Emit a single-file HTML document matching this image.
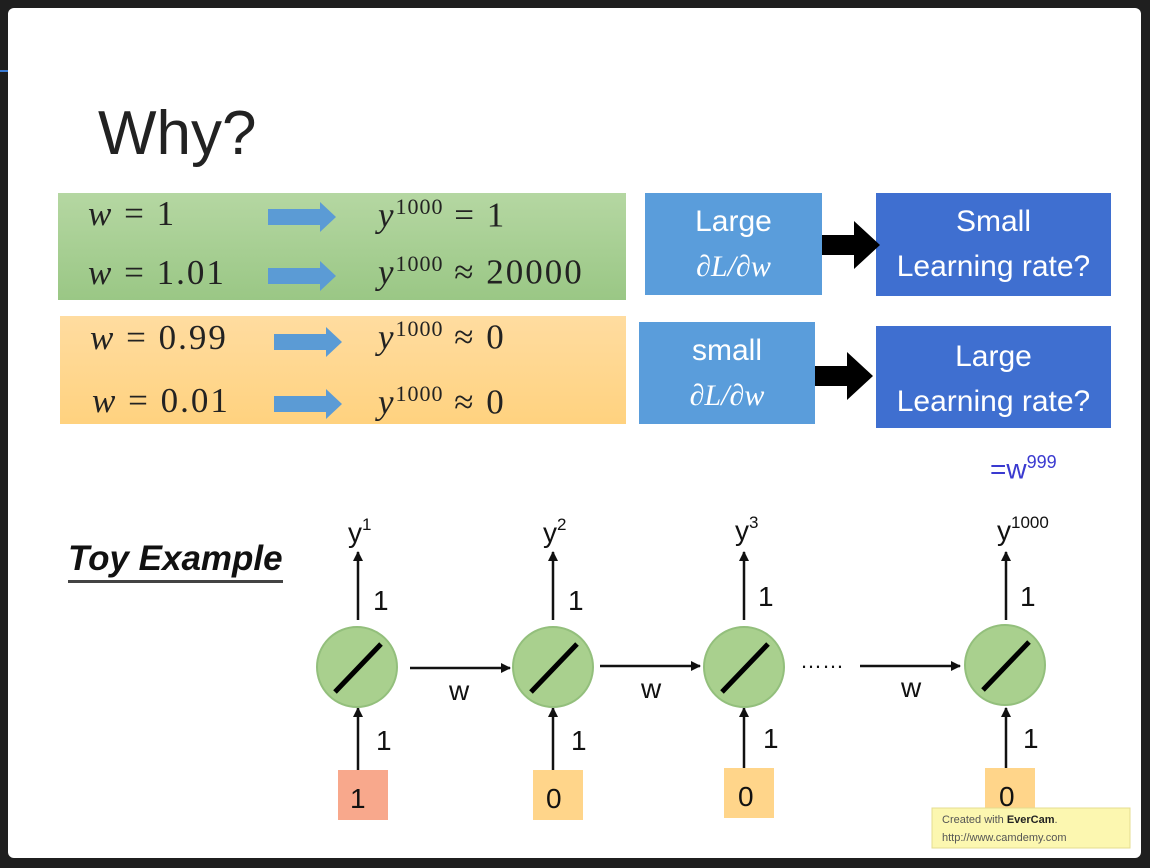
<!DOCTYPE html>
<html><head><style>
body{margin:0;width:1150px;height:868px;background:#1f1f1f;overflow:hidden;position:relative;font-family:"Liberation Sans",sans-serif}
.slide{position:absolute;left:8px;top:8px;width:1133px;height:850px;background:#fff;border-radius:6px}
.a{position:absolute}
.m{font-family:"Liberation Serif",serif;font-size:35px;letter-spacing:2px;color:#222;position:absolute;white-space:nowrap}
.m i{font-style:italic}
.m sup{font-size:22px;letter-spacing:1px}
.bx{position:absolute;color:#fff;text-align:center;font-size:30px;line-height:45px}
</style></head><body>
<div class="a" style="left:0;top:70px;width:8px;height:2px;background:#3a7bd5"></div>
<div class="slide"></div>
<div class="a" style="left:98px;top:98px;font-size:62px;color:#222">Why?</div>
<div class="a" style="left:58px;top:193px;width:568px;height:107px;background:linear-gradient(#b5d7a2,#9ac785)"></div>
<div class="a" style="left:60px;top:316px;width:566px;height:108px;background:linear-gradient(#ffdca0,#ffd27f)"></div>
<div class="m" style="left:88px;top:194px"><i>w</i> = 1</div>
<div class="m" style="left:88px;top:253px"><i>w</i> = 1.01</div>
<div class="m" style="left:90px;top:318px"><i>w</i> = 0.99</div>
<div class="m" style="left:92px;top:381px"><i>w</i> = 0.01</div>
<div class="m" style="left:378px;top:194px"><i>y</i><sup>1000</sup> = 1</div>
<div class="m" style="left:378px;top:251px"><i>y</i><sup>1000</sup> ≈ 20000</div>
<div class="m" style="left:378px;top:316px"><i>y</i><sup>1000</sup> ≈ 0</div>
<div class="m" style="left:378px;top:381px"><i>y</i><sup>1000</sup> ≈ 0</div>
<div class="bx" style="left:645px;top:193px;width:177px;height:102px;background:#5a9ddb;padding-top:6px;box-sizing:border-box">Large<br><span style="font-family:'Liberation Serif',serif;font-style:italic">∂L/∂w</span></div>
<div class="bx" style="left:639px;top:322px;width:176px;height:102px;background:#5a9ddb;padding-top:6px;box-sizing:border-box">small<br><span style="font-family:'Liberation Serif',serif;font-style:italic">∂L/∂w</span></div>
<div class="bx" style="left:876px;top:193px;width:235px;height:103px;background:#3f6fd0;padding-top:6px;box-sizing:border-box">Small<br>Learning rate?</div>
<div class="bx" style="left:876px;top:326px;width:235px;height:102px;background:#3f6fd0;padding-top:8px;box-sizing:border-box">Large<br>Learning rate?</div>
<div class="a" style="left:990px;top:452px;font-size:28px;color:#3a3ad0">=w<sup style="font-size:18px">999</sup></div>
<div class="a" style="left:68px;top:538px;font-size:35px;font-weight:bold;font-style:italic;color:#111;border-bottom:3px solid #444;line-height:42px">Toy Example</div>
<svg class="a" style="left:0;top:0" width="1150" height="868">
<defs><marker id="ar" markerWidth="10" markerHeight="10" refX="9" refY="5" orient="auto" markerUnits="userSpaceOnUse"><path d="M0,0L10,5L0,10z" fill="#111"/></marker></defs>
<g fill="#5b9bd5">
<path d="M268,209h52v-7l16,15l-16,15v-7h-52z"/><path d="M268,268h52v-7l16,15l-16,15v-7h-52z"/>
<path d="M274,334h52v-7l16,15l-16,15v-7h-52z"/><path d="M274,396h52v-7l16,15l-16,15v-7h-52z"/>
</g>
<g fill="#000"><path d="M822,235h32v-14l26,24l-26,24v-14h-32z"/><path d="M815,366h32v-14l26,24l-26,24v-14h-32z"/></g>
<g stroke="#111" stroke-width="2.5" fill="none" marker-end="url(#ar)">
<line x1="358" y1="620" x2="358" y2="552"/><line x1="553" y1="620" x2="553" y2="552"/><line x1="744" y1="620" x2="744" y2="552"/><line x1="1006" y1="620" x2="1006" y2="552"/>
<line x1="358" y1="770" x2="358" y2="708"/><line x1="553" y1="770" x2="553" y2="708"/><line x1="744" y1="770" x2="744" y2="708"/><line x1="1006" y1="770" x2="1006" y2="708"/>
<line x1="410" y1="668" x2="510" y2="668"/><line x1="600" y1="666" x2="700" y2="666"/><line x1="860" y1="666" x2="960" y2="666"/>
</g>
<g fill="#a9d08e" stroke="#93bf7c" stroke-width="2">
<circle cx="357" cy="667" r="40"/><circle cx="553" cy="667" r="40"/><circle cx="744" cy="667" r="40"/><circle cx="1005" cy="665" r="40"/>
</g>
<g stroke="#000" stroke-width="5">
<line x1="335" y1="692" x2="381" y2="644"/><line x1="531" y1="692" x2="577" y2="644"/><line x1="722" y1="692" x2="768" y2="644"/><line x1="983" y1="690" x2="1029" y2="642"/>
</g>
<rect x="338" y="770" width="50" height="50" fill="#f8a88c"/><rect x="533" y="770" width="50" height="50" fill="#ffd58a"/><rect x="724" y="768" width="50" height="50" fill="#ffd58a"/><rect x="985" y="768" width="50" height="50" fill="#ffd58a"/>
<g font-family="Liberation Sans,sans-serif" font-size="28" fill="#111">
<text x="348" y="542">y<tspan font-size="17" dy="-12">1</tspan></text>
<text x="543" y="542">y<tspan font-size="17" dy="-12">2</tspan></text>
<text x="735" y="540">y<tspan font-size="17" dy="-12">3</tspan></text>
<text x="997" y="540">y<tspan font-size="17" dy="-12">1000</tspan></text>
<text x="373" y="610">1</text><text x="568" y="610">1</text><text x="758" y="606">1</text><text x="1020" y="606">1</text>
<text x="376" y="750">1</text><text x="571" y="750">1</text><text x="763" y="748">1</text><text x="1023" y="748">1</text>
<text x="449" y="700">w</text><text x="641" y="698">w</text><text x="901" y="697">w</text>
<text x="350" y="808">1</text><text x="546" y="808">0</text><text x="738" y="806">0</text><text x="999" y="806">0</text>
<text x="800" y="668" font-size="22">……</text>
</g>
<rect x="932" y="808" width="198" height="40" fill="#fcf7b0" stroke="#e5dc90"/>
<text x="942" y="823" font-family="Liberation Sans,sans-serif" font-size="11" fill="#555">Created with <tspan font-weight="bold" fill="#222">EverCam</tspan>.</text>
<text x="942" y="841" font-family="Liberation Sans,sans-serif" font-size="11" fill="#555">http://www.camdemy.com</text>
</svg>
</body></html>
